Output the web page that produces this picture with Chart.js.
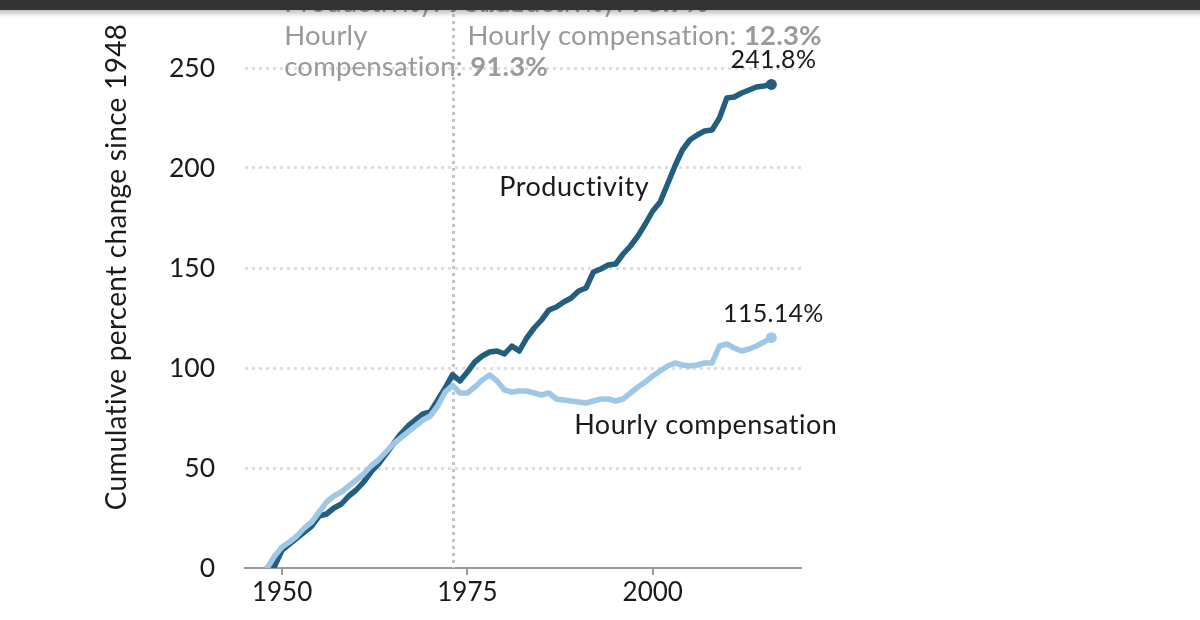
<!DOCTYPE html>
<html><head><meta charset="utf-8">
<script src="https://cdn.jsdelivr.net/npm/chart.js@4/dist/chart.umd.min.js"></script>
<style>html,body{margin:0;padding:0;background:#fff;overflow:hidden}canvas{display:block}</style>
</head><body>
<canvas id="c" width="1200" height="620" style="width:1200px;height:620px"></canvas>
<script>
const years = [1948,1949,1950,1951,1952,1953,1954,1955,1956,1957,1958,1959,1960,1961,1962,1963,1964,1965,1966,1967,1968,1969,1970,1971,1972,1973,1974,1975,1976,1977,1978,1979,1980,1981,1982,1983,1984,1985,1986,1987,1988,1989,1990,1991,1992,1993,1994,1995,1996,1997,1998,1999,2000,2001,2002,2003,2004,2005,2006,2007,2008,2009,2010,2011,2012,2013,2014,2015,2016];
const productivity = [0,1,9,12,15,18,21,26,27,30,32,36,39,43,48,52,57,62,67,71,74,77,78,84,90,96.7,93.5,98,103,106,108,108.5,107,111,108.5,115,120,124,129,130.5,133,135,138.5,140,148,149.5,151.5,152,157,161,166,172,178.5,183,192,201,209,214,216.5,218.5,219,225,235,235.5,237.5,239,240.5,241,241.8];
const compensation = [0,6,10.5,13,16,20,23,28,33,36,38,41,44,47,51,54,58,62,65,68,71,74,76,81,88,91.3,87.5,87.5,90.5,94,96.5,93.5,89,88,88.5,88.5,87.5,86.5,87.5,84.5,84,83.5,83,82.5,83.5,84.5,84.5,83.5,84.5,87.5,90.5,93,96,98.5,101,102.5,101.5,101,101.5,102.5,102.5,111,112,110,108.5,109.5,111,113,115.14];
const xTicks = [1950,1975,2000];
const yTicks = [0,50,100,150,200,250];
const endLabels = ["241.8%","115.14%"];
const seriesLabels = ["Productivity","Hourly compensation"];
const axisTitle = "Cumulative percent change since 1948";
const splitYear = 1973;

const FONT = "Lato, 'Open Sans', sans-serif";
const DARK = '#235e7e';
const LIGHT = '#9ec8e6';

const annot = {
  id: 'annot',
  beforeDatasetsDraw(chart) {
    const {ctx, chartArea, scales: {x}} = chart;
    const px = Math.round(x.getPixelForValue(splitYear)) + 0.5;
    ctx.save();
    ctx.strokeStyle = '#c4c4c4';
    ctx.lineWidth = 3;
    ctx.setLineDash([3, 4]);
    ctx.beginPath();
    ctx.moveTo(px, 0);
    ctx.lineTo(px, chartArea.bottom);
    ctx.stroke();
    ctx.restore();
  },
  afterDatasetsDraw(chart) {
    const {ctx, chartArea, scales: {x, y}} = chart;
    const n = years.length - 1;
    ctx.save();
    ctx.letterSpacing = '0.3px';
    // axis title
    ctx.save();
    ctx.translate(117, 267);
    ctx.rotate(-Math.PI / 2);
    ctx.fillStyle = '#1a1a1a';
    ctx.font = "28px " + FONT;
    ctx.textAlign = 'center';
    ctx.textBaseline = 'middle';
    ctx.fillText(axisTitle, 0, 0);
    ctx.restore();

    ctx.beginPath();
    ctx.rect(0, 0, 836, 620);
    ctx.clip();
    ctx.fillStyle = '#1a1a1a';
    ctx.textBaseline = 'middle';
    ctx.textAlign = 'center';
    ctx.font = "25px " + FONT;
    ctx.fillText(endLabels[0], x.getPixelForValue(years[n]) + 2, y.getPixelForValue(productivity[n]) - 24);
    ctx.fillText(endLabels[1], x.getPixelForValue(years[n]) + 2, y.getPixelForValue(compensation[n]) - 24);
    ctx.textAlign = 'left';
    ctx.letterSpacing = '0.5px';
    ctx.font = "27px " + FONT;
    ctx.fillText(seriesLabels[0], x.getPixelForValue(1979.3), y.getPixelForValue(190.5));
    ctx.fillText(seriesLabels[1], x.getPixelForValue(1989.4), y.getPixelForValue(71.5));

    // header
    ctx.letterSpacing = '0.2px';
    const hx1 = x.getPixelForValue(1950.3), hx2 = x.getPixelForValue(1975);
    ctx.fillStyle = '#9a9a9a';
    ctx.textBaseline = 'alphabetic';
    const mixed = (parts, px, py) => {
      let cx = px;
      for (const [t, b] of parts) {
        ctx.font = (b ? "bold " : "") + "27.5px " + FONT;
        ctx.fillText(t, cx, py);
        cx += ctx.measureText(t).width;
      }
    };
    mixed([["Productivity: ", 0], ["96.7%", 1]], hx1, 12);
    mixed([["Productivity: ", 0], ["73.7%", 1]], hx2, 12);
    mixed([["Hourly", 0]], hx1, 45);
    mixed([["compensation: ", 0], ["91.3%", 1]], hx1, 76);
    mixed([["Hourly compensation: ", 0], ["12.3%", 1]], hx2, 45);
    ctx.restore();
  },
  afterDraw(chart) {
    const {ctx} = chart;
    ctx.save();
    ctx.fillStyle = '#333333';
    ctx.fillRect(0, 0, 1200, 10);
    const g = ctx.createLinearGradient(0, 10, 0, 17);
    g.addColorStop(0, 'rgba(0,0,0,0.25)');
    g.addColorStop(1, 'rgba(0,0,0,0)');
    ctx.fillStyle = g;
    ctx.fillRect(0, 10, 1200, 7);
    ctx.restore();
  }
};

new Chart(document.getElementById('c'), {
  type: 'line',
  data: {
    datasets: [
      {
        label: seriesLabels[1],
        data: years.map((yr, i) => ({x: yr, y: compensation[i]})),
        borderColor: LIGHT, backgroundColor: LIGHT,
        pointBackgroundColor: LIGHT, pointBorderWidth: 0,
        borderWidth: 5.5, tension: 0,
        borderJoinStyle: 'round', borderCapStyle: 'round',
        pointRadius: c => c.dataIndex === years.length - 1 ? 5.5 : 0,
        order: 1
      },
      {
        label: seriesLabels[0],
        data: years.map((yr, i) => ({x: yr, y: productivity[i]})),
        borderColor: DARK, backgroundColor: DARK,
        pointBackgroundColor: DARK, pointBorderWidth: 0,
        borderWidth: 5.5, tension: 0,
        borderJoinStyle: 'round', borderCapStyle: 'round',
        pointRadius: c => c.dataIndex === years.length - 1 ? 5.5 : 0,
        order: 2
      }
    ]
  },
  options: {
    responsive: false,
    animation: false,
    devicePixelRatio: 1,
    layout: {padding: {left: 0, right: 399, top: 68, bottom: 0}},
    plugins: {legend: {display: false}, tooltip: {enabled: false}},
    scales: {
      x: {
        type: 'linear', min: 1945, max: 2020,
        afterBuildTicks: s => { s.ticks = xTicks.map(v => ({value: v})); },
        afterFit: s => { s.height = 52; },
        grid: {display: true, drawOnChartArea: false, drawTicks: true, tickLength: 7, color: '#9a9a9a', lineWidth: 2},
        border: {display: true, color: '#9a9a9a', width: 2},
        ticks: {color: '#1a1a1a', font: {family: FONT, size: 26}, padding: 2, callback: v => String(v), maxRotation: 0}
      },
      y: {
        type: 'linear', min: 0, max: 250,
        afterBuildTicks: s => { s.ticks = yTicks.map(v => ({value: v})); },
        afterFit: s => { s.width = 245; },
        grid: {display: true, drawTicks: false, lineWidth: 3,
               color: c => (c.tick && c.tick.value === 0) ? 'rgba(0,0,0,0)' : '#dedede'},
        border: {display: false, dash: [3, 4]},
        ticks: {color: '#1a1a1a', font: {family: FONT, size: 26.5}, padding: 30, callback: v => String(v)},
        title: {display: false}
      }
    }
  },
  plugins: [annot]
});
</script>
</body></html>
